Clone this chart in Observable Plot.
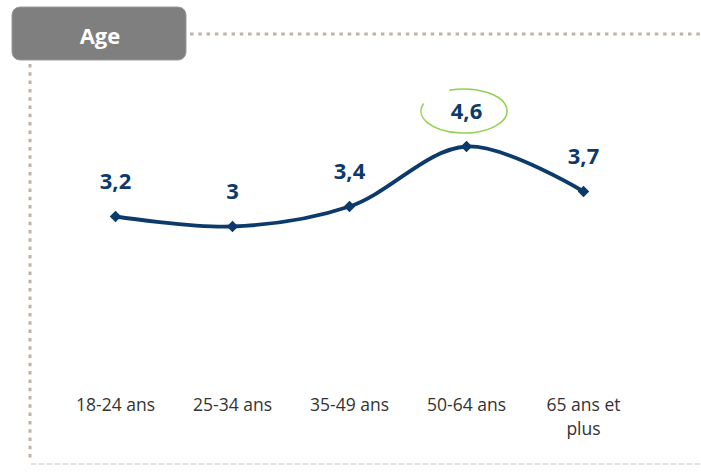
<!DOCTYPE html>
<html>
<head>
<meta charset="utf-8">
<script src="https://cdn.jsdelivr.net/npm/d3@7"></script>
<script src="https://cdn.jsdelivr.net/npm/@observablehq/plot@0.6"></script>
<style>
  html, body { margin: 0; padding: 0; background: #fff; }
  #chart svg { display: block; }
</style>
</head>
<body>
<div id="chart"></div>
<script>
const categories = ["18-24 ans", "25-34 ans", "35-49 ans", "50-64 ans", "65 ans et\nplus"];
const values = [3.2, 3.0, 3.4, 4.6, 3.7];
const valueLabels = ["3,2", "3", "3,4", "4,6", "3,7"];
const title = "Age";
const highlighted = "50-64 ans";

const data = categories.map((c, i) => ({cat: c, v: values[i], label: valueLabels[i]}));

const navy = "#0c3a6b";
const font = "'Open Sans', Lato, sans-serif";
const W = 701, H = 476;

const chart = Plot.plot({
  width: W,
  height: H,
  marginLeft: 56.5,
  marginRight: 59.5,
  marginTop: 76,
  marginBottom: 100,
  style: {fontFamily: font, background: "#fff"},
  x: {type: "point", domain: categories, padding: 0.5, label: null},
  y: {domain: [0, 6], axis: null},
  marks: [
    Plot.axisX({tickSize: 0, tickPadding: 18, fontSize: 17.5, fill: "#333", lineHeight: 1.35, label: null}),
    Plot.line(data, {x: "cat", y: "v", stroke: navy, strokeWidth: 3.8, curve: "catmull-rom"}),
    Plot.dot(data, {x: "cat", y: "v", symbol: "diamond2", r: 4.2, fill: navy, stroke: navy, strokeWidth: 1.5}),
    Plot.text(data, {x: "cat", y: "v", text: "label", dy: -35, fontSize: 22, fontWeight: "bold", fill: navy})
  ]
});

const svg = d3.select(chart);
// decorations
const deco = svg.insert("g", ":first-child");
deco.append("line").attr("x1", 190).attr("x2", W).attr("y1", 34).attr("y2", 34)
  .attr("stroke", "#bfb3a8").attr("stroke-width", 3).attr("stroke-dasharray", "3.5,4.8");
deco.append("line").attr("x1", 30).attr("x2", 30).attr("y1", 64).attr("y2", 462)
  .attr("stroke", "#bfb3a8").attr("stroke-width", 3).attr("stroke-dasharray", "3.5,4.8");
deco.append("line").attr("x1", 31).attr("x2", W).attr("y1", 464).attr("y2", 464)
  .attr("stroke", "#d6d6d6").attr("stroke-width", 1.5).attr("stroke-dasharray", "5,3");
deco.append("rect").attr("x", 12).attr("y", 7).attr("width", 174).attr("height", 53).attr("rx", 8)
  .attr("fill", "#7f7f7f").attr("stroke", "#9a9a9a").attr("stroke-width", 1);
deco.append("text").attr("x", 100).attr("y", 44).attr("text-anchor", "middle")
  .attr("font-family", font).attr("font-weight", "bold")
  .attr("font-size", 22).attr("fill", "#fff").text(title);

// highlight ellipse around the max label
const sx = chart.scale("x"), sy = chart.scale("y");
const hv = data.find(d => d.cat === highlighted);
const cx = sx.apply(highlighted) - 2, cy = sy.apply(hv.v) - 35, rx = 43, ry = 22;
const pt = t => [cx + rx * Math.cos(t * Math.PI / 180), cy + ry * Math.sin(t * Math.PI / 180)];
const [x0, y0] = pt(250), [x1, y1] = pt(200 + 360);
svg.append("path")
  .attr("d", `M${x0},${y0} A${rx},${ry} 0 1 1 ${x1},${y1}`)
  .attr("fill", "none").attr("stroke", "#92d050").attr("stroke-width", 1.5);

document.getElementById("chart").appendChild(chart);
</script>
</body>
</html>
